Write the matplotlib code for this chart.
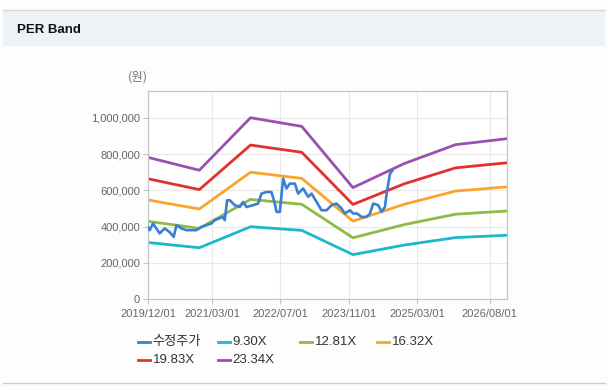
import numpy as np
import pandas as pd
import matplotlib
matplotlib.use("Agg")
import matplotlib.pyplot as plt
import matplotlib.dates as mdates
from matplotlib.patches import Rectangle
from matplotlib.lines import Line2D

plt.rcParams['font.family'] = ['Liberation Sans', 'Noto Sans CJK KR', 'DejaVu Sans']

# band vertices (every Dec 1st)
band_dates = ['2019-12-01', '2020-12-01', '2021-12-01', '2022-12-01',
              '2023-12-01', '2024-12-01', '2025-12-01', '2026-12-01']
per_930 = [312000, 283000, 399000, 379000, 245000, 298000, 339000, 352000]
per_1281 = [429000, 390000, 550000, 523000, 338000, 411000, 468000, 486000]
per_1632 = [547000, 497000, 700000, 666000, 430000, 523000, 596000, 619000]
per_1983 = [664000, 604000, 850000, 810000, 522000, 636000, 724000, 752000]
per_2334 = [782000, 711000, 1001000, 953000, 615000, 748000, 852000, 885000]

# adjusted price
price_dates = ['2019-12-01', '2019-12-13', '2020-01-06', '2020-02-22', '2020-03-29',
               '2020-05-04', '2020-06-01', '2020-06-21', '2020-07-26', '2020-08-31',
               '2020-11-10', '2020-12-16', '2021-01-21', '2021-02-25', '2021-03-21',
               '2021-05-17', '2021-05-31', '2021-06-17', '2021-07-06', '2021-08-11',
               '2021-09-15', '2021-10-09', '2021-11-02', '2021-12-19', '2022-01-24',
               '2022-02-17', '2022-03-25', '2022-04-29', '2022-05-23', '2022-06-04',
               '2022-06-28', '2022-07-21', '2022-08-14', '2022-09-07', '2022-10-13',
               '2022-11-05', '2022-12-11', '2023-01-16', '2023-02-09', '2023-03-17',
               '2023-04-21', '2023-05-27', '2023-07-02', '2023-08-06', '2023-09-11',
               '2023-10-04', '2023-11-09', '2023-12-03', '2023-12-31', '2024-02-01',
               '2024-03-07', '2024-03-31', '2024-04-23', '2024-05-29', '2024-06-22',
               '2024-07-16', '2024-07-28', '2024-08-21', '2024-09-09']
price = [398000, 380000, 417000, 362000, 390000,
         369000, 343000, 408000, 390000, 380000,
         380000, 398000, 408000, 417000, 435000,
         453000, 435000, 545000, 545000, 518000,
         508000, 536000, 508000, 518000, 527000,
         582000, 591000, 591000, 527000, 481000,
         481000, 665000, 610000, 637000, 637000,
         582000, 610000, 564000, 582000, 536000,
         490000, 490000, 518000, 527000, 500000,
         472000, 490000, 472000, 472000, 453000,
         453000, 472000, 527000, 518000, 481000,
         508000, 582000, 692000, 711000]

tick_dates = ['2019-12-01', '2021-03-01', '2022-07-01', '2023-11-01', '2025-03-01', '2026-08-01']
y_ticks = [0, 200000, 400000, 600000, 800000, 1000000]

series = [
    ('수정주가', price_dates, price, '#3a7fd6'),
    ('9.30X', band_dates, per_930, '#1bb8cc'),
    ('12.81X', band_dates, per_1281, '#8dbb45'),
    ('16.32X', band_dates, per_1632, '#fba42c'),
    ('19.83X', band_dates, per_1983, '#e0312b'),
    ('23.34X', band_dates, per_2334, '#9b4fb0'),
]

fig = plt.figure(figsize=(6.08, 3.90), dpi=100, facecolor='#fdfdfd')

# header strip
fig.add_artist(Rectangle((0.005, 0.882), 0.99, 0.092, transform=fig.transFigure,
                         facecolor='#eef2f7', edgecolor='none'))
fig.add_artist(Line2D([0.005, 0.995], [0.974, 0.974], transform=fig.transFigure,
                      color='#d3d7dc', lw=1))
fig.add_artist(Line2D([0.005, 0.995], [0.018, 0.018], transform=fig.transFigure,
                      color='#c9ccd0', lw=1))
fig.text(0.028, 0.923, 'PER Band', fontsize=9.5, fontweight='bold', color='#111111',
         va='center', ha='left')

ax = fig.add_axes([0.2434, 0.2333, 0.5900, 0.5341])
ax.set_facecolor('white')

# bands first, price on top
for name, d, v, c in series[1:]:
    ax.plot(pd.to_datetime(d), v, color=c, lw=2, solid_joinstyle='round')
ax.plot(pd.to_datetime(price_dates), price, color=series[0][3], lw=1.9,
        solid_joinstyle='round', zorder=5)

ax.set_xlim(pd.Timestamp('2019-12-01'), pd.Timestamp('2026-12-01'))
ax.set_ylim(0, 1150000)
ax.set_xticks(pd.to_datetime(tick_dates))
ax.xaxis.set_major_formatter(mdates.DateFormatter('%Y/%m/%d'))
ax.set_yticks(y_ticks)
ax.yaxis.set_major_formatter(matplotlib.ticker.FuncFormatter(lambda v, p: f'{int(v):,}'))

ax.grid(True, color='#e9e9e9', lw=0.8)
ax.set_axisbelow(True)
for s in ax.spines.values():
    s.set_color('#c6c6c6')
    s.set_linewidth(0.9)
ax.tick_params(axis='both', colors='#c6c6c6', labelcolor='#666666', labelsize=8,
               length=3.6, width=0.8)
ax.tick_params(axis='y', pad=2)
ax.tick_params(axis='x', pad=3.5)

fig.text(0.2275, 0.802, '(원)', fontsize=9, color='#777777', ha='center', va='center',
         family=['Noto Sans CJK KR', 'DejaVu Sans'])

# legend laid out like the original (4 slots per row)
slot_x = [138, 218, 300, 377]
row_y = [341.7, 360]
for i, (name, d, v, c) in enumerate(series):
    r, k = divmod(i, 4)
    x0 = slot_x[k] / 608
    y0 = 1 - row_y[r] / 390
    fig.add_artist(Line2D([x0, x0 + 12 / 608], [y0, y0], transform=fig.transFigure,
                          color=c, lw=2))
    fig.text(x0 + 14.5 / 608, y0, name, fontsize=9.5, color='#333333', va='center', ha='left')

fig.savefig('out.png', dpi=100, facecolor=fig.get_facecolor())
